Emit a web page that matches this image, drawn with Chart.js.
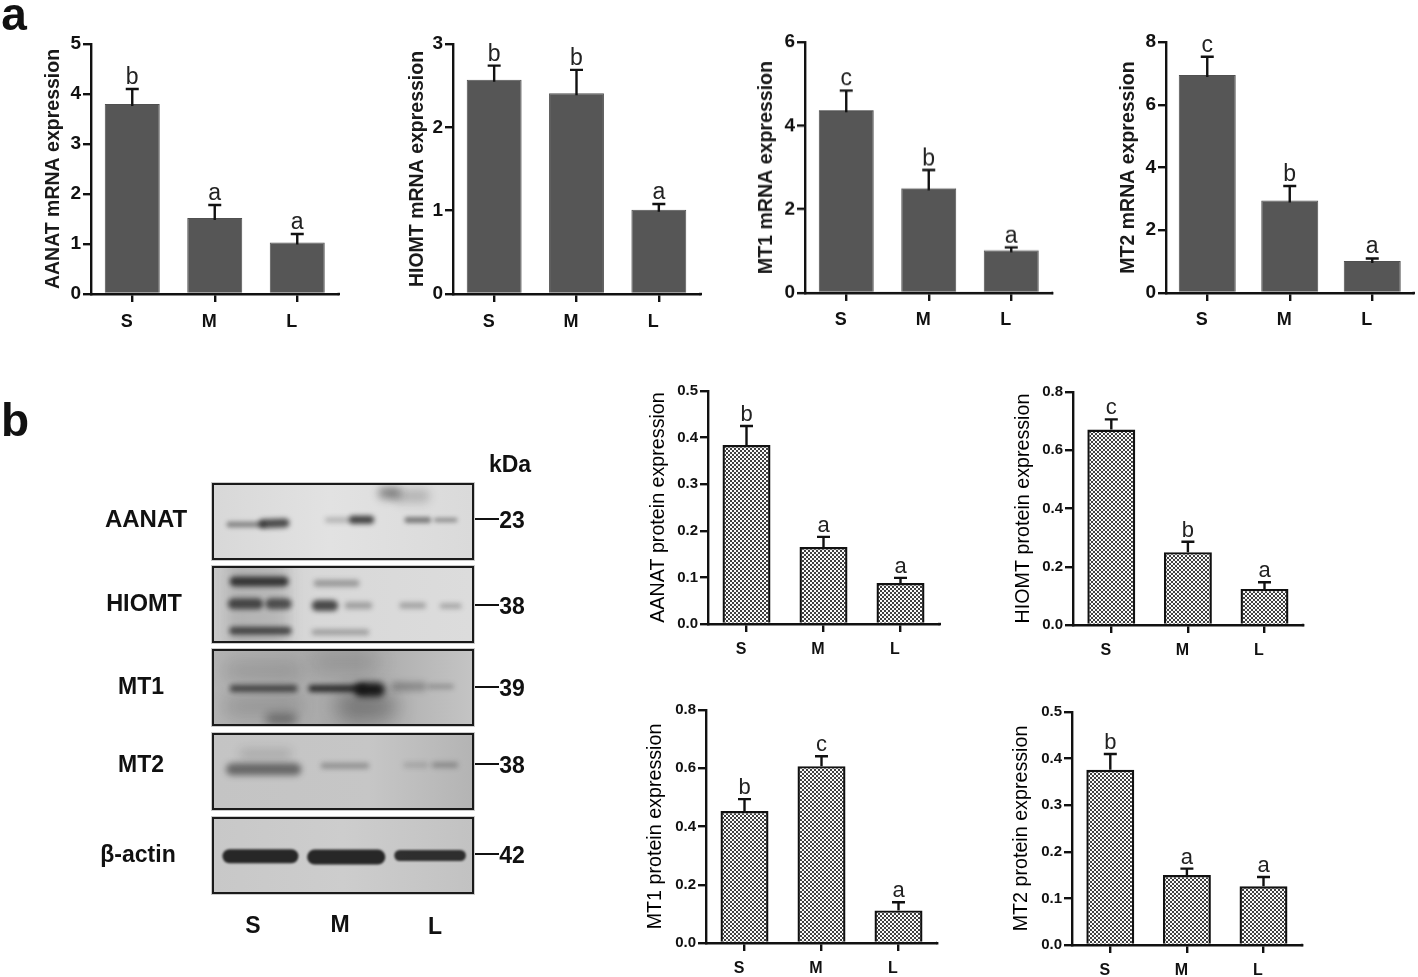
<!DOCTYPE html>
<html><head><meta charset="utf-8">
<script src="https://cdn.jsdelivr.net/npm/chart.js@4"></script>
<style>
html,body{margin:0;padding:0;background:#fff;width:1418px;height:977px;overflow:hidden}
body{position:relative;font-family:"Liberation Sans",Arial,sans-serif;color:#111}
canvas{position:absolute;display:block}
.t{position:absolute;transform:translate(-50%,-50%);line-height:1;white-space:nowrap;font-weight:bold;filter:blur(.25px)}
.blot{position:absolute;box-sizing:border-box;border:2px solid #1a1a1a;overflow:hidden;outline:1px solid #ccc}
.dash{position:absolute;background:#111;height:2.4px;width:24px}
</style></head><body>
<script>
// ---------- data ----------
const categories = ['S','M','L'];

const aanatMrnaMeans  = [3.80,1.52,1.03];
const aanatMrnaUpper  = [4.10,1.78,1.20];
const aanatMrnaLetters= ['b','a','a'];
const aanatMrnaTicks  = [0,1,2,3,4,5];

const hiomtMrnaMeans  = [2.57,2.41,1.01];
const hiomtMrnaUpper  = [2.74,2.69,1.08];
const hiomtMrnaLetters= ['b','b','a'];
const hiomtMrnaTicks  = [0,1,2,3];

const mt1MrnaMeans    = [4.37,2.50,1.02];
const mt1MrnaUpper    = [4.84,2.94,1.09];
const mt1MrnaLetters  = ['c','b','a'];
const mt1MrnaTicks    = [0,2,4,6];

const mt2MrnaMeans    = [6.95,2.95,1.02];
const mt2MrnaUpper    = [7.53,3.41,1.10];
const mt2MrnaLetters  = ['c','b','a'];
const mt2MrnaTicks    = [0,2,4,6,8];

const aanatProtMeans  = [0.384,0.165,0.088];
const aanatProtUpper  = [0.425,0.187,0.099];
const aanatProtLetters= ['b','a','a'];
const aanatProtTicks  = [0,0.1,0.2,0.3,0.4,0.5];

const hiomtProtMeans  = [0.671,0.250,0.124];
const hiomtProtUpper  = [0.706,0.286,0.147];
const hiomtProtLetters= ['c','b','a'];
const hiomtProtTicks  = [0,0.2,0.4,0.6,0.8];

const mt1ProtMeans    = [0.453,0.607,0.112];
const mt1ProtUpper    = [0.494,0.641,0.140];
const mt1ProtLetters  = ['b','c','a'];
const mt1ProtTicks    = [0,0.2,0.4,0.6,0.8];

const mt2ProtMeans    = [0.376,0.150,0.126];
const mt2ProtUpper    = [0.410,0.164,0.146];
const mt2ProtLetters  = ['b','a','a'];
const mt2ProtTicks    = [0,0.1,0.2,0.3,0.4,0.5];

// blot bands: lane start %, start height %, lane end %, end height %, darkness, thickness, softness
const bandsAanat = [[6,54,19,54,.42,6,2.2],[19,53,27.5,52,.75,9,2.4],[44,48,53,48,.25,5,2.5],[54,47.5,60.5,47.5,.8,8,2.4],[75,48,83,48,.5,6,2],[86,48,93.6,48,.42,4,2],[66,11,70,11,.45,12,4],[72,15,81,15,.2,14,5]];
const bandsHiomt = [[17,8,17,92,.14,62,7],[8,18.5,27,18.5,.82,10,2.6],[7.5,49,17,49,.72,11,2.6],[22,49,28,49,.68,11,2.6],[7.5,86,28.5,86,.72,8,2.4],[40,21,55,21,.33,7,2.6],[40,51.5,46,51.5,.75,11,2.6],[52,51.5,60,51.5,.3,7,2.6],[39,88,59,88,.3,6,2.6],[73,51.5,81,51.5,.3,6,2.4],[88.5,52,95,52,.3,5,2.4]];
const bandsMt1   = [[8,27,30,27,.14,24,9],[8,76,30,76,.16,24,9],[42,15,60,15,.12,24,9],[53,76,65,76,.35,30,10],[22,93,30,93,.45,10,5],[7.5,51.5,31,51.5,.68,7,2.4],[38,51.5,58,51.5,.85,7,2.4],[57,53,63.5,53,1,14,3.2],[70.5,48.5,81,48.5,.3,8,3],[84,48.5,92,48.5,.25,5,2.4]];
const bandsMt2   = [[12,26,28,26,.13,12,5],[7,47,31.5,47,.55,12,3],[42.5,42,59,42,.3,6,2.6],[74.5,41,82,41,.15,6,2.6],[85.5,41,93.5,41,.28,6,2.6]];
const bandsActin = [[6,51,30,51,.92,14,1.2],[39,52,63.5,52,.92,15,1.2],[72,50,95.5,50,.88,11,1.2]];

const kdaMarks = ['23','38','39','38','42'];

// ---------- plugins ----------
const errorBars = {
  id:'errorBars',
  afterDatasetsDraw(chart,args,o){
    if(!o.upper) return;
    const c=chart.ctx, xs=chart.scales.x, ys=chart.scales.y;
    c.save();
    c.strokeStyle='#111'; c.lineWidth=2.4; c.fillStyle='#222';
    c.textAlign='center'; c.textBaseline='alphabetic';
    c.font=o.letterFont;
    o.upper.forEach((u,i)=>{
      const x=xs.getPixelForValue(i), yT=ys.getPixelForValue(u), yM=ys.getPixelForValue(o.means[i]);
      c.beginPath(); c.moveTo(x,yM+(o.poke||0)); c.lineTo(x,yT);
      c.moveTo(x-o.cap,yT); c.lineTo(x+o.cap,yT); c.stroke();
      c.fillText(o.letters[i],x,yT-o.gap);
    });
    // axis overrun to the right of the last band
    const b=chart.chartArea.bottom;
    c.beginPath(); c.moveTo(chart.chartArea.right-1,b); c.lineTo(chart.chartArea.right+o.overrun,b); c.stroke();
    c.restore();
  }
};
const blur = {
  id:'bandBlur',
  beforeDatasetDraw(chart,args){ chart.ctx.save(); chart.ctx.filter='blur('+chart.data.datasets[args.index].soft+'px)'; },
  afterDatasetDraw(chart){ chart.ctx.restore(); }
};

// ---------- patterned fill ----------
function dotPattern(){
  const cell=document.createElement('canvas'); cell.width=4; cell.height=4;
  const g=cell.getContext('2d');
  g.fillStyle='#fafafa'; g.fillRect(0,0,4,4);
  g.fillStyle='#404040'; g.fillRect(0,0,2,2); g.fillRect(2,2,2,2);
  return g.createPattern(cell,'repeat');
}
const pattern = dotPattern();

// ---------- bar panels ----------
const L=90, T=15, B=34;
function barPanel(p){
  const ref=document.createElement('canvas');
  const overrun=p.xEnd-(p.axis+3*p.step);
  const w=L+3*p.step+overrun+6, h=T+(p.bottom-p.top)+B;
  ref.width=w; ref.height=h;
  ref.style.cssText=`left:${p.axis-L}px;top:${p.top-T}px;width:${w}px;height:${h}px;filter:blur(.3px)`;
  document.body.appendChild(ref);
  const protein=p.kind==='protein';
  const titleSize=protein?19.7:19.5;
  new Chart(ref,{
    type:'bar',
    data:{labels:categories,datasets:[{
      data:p.means,
      backgroundColor:protein?pattern:'#565656',
      borderColor:protein?'#111':'#505050',
      borderWidth:protein?2.4:1,
      barPercentage:p.barW/p.step, categoryPercentage:1
    }]},
    options:{
      responsive:false,animation:false,devicePixelRatio:1,
      layout:{padding:{top:T,right:overrun+6,left:0,bottom:0}},
      plugins:{legend:{display:false},tooltip:{enabled:false},
        errorBars:{means:p.means,upper:p.upper,letters:p.letters,cap:6.5,poke:protein?0:2,
          gap:5,overrun:overrun,letterFont:(protein?'22':'23')+'px "Liberation Sans"'}},
      scales:{
        x:{type:'category',offset:true,
          afterFit(s){s.height=B},
          border:{display:true,color:'#111',width:2.4},
          grid:{display:true,drawOnChartArea:false,drawTicks:true,tickLength:8,color:'#111',lineWidth:2.4,offset:false},
          ticks:{color:'#111',font:{family:'Liberation Sans',weight:'bold',size:protein?16:18},padding:p.labelPad,labelOffset:-5.5,maxRotation:0}},
        y:{type:'linear',min:0,max:p.ticks[p.ticks.length-1],
          afterFit(s){s.width=L},
          afterBuildTicks(s){s.ticks=p.ticks.map(v=>({value:v}))},
          border:{display:true,color:'#111',width:2.4},
          grid:{display:true,drawOnChartArea:false,drawTicks:true,tickLength:8,color:'#111',lineWidth:2.4},
          ticks:{color:'#111',font:{family:'Liberation Sans',weight:'bold',size:protein?15:19},padding:2,
            callback:v=>protein?v.toFixed(1):String(v)},
          title:{display:true,text:p.title,color:protein?'#000':'#1a1a1a',
            font:{family:'Liberation Sans',weight:protein?'normal':'bold',size:titleSize,lineHeight:1.2},
            padding:{top:p.titleX-(p.axis-L)-titleSize*.6,bottom:0}}
        }
      }
    },
    plugins:[errorBars]
  });
}

[
 {kind:'mrna',title:'AANAT mRNA expression',means:aanatMrnaMeans,upper:aanatMrnaUpper,letters:aanatMrnaLetters,ticks:aanatMrnaTicks,axis:91,top:44,bottom:294,step:82.5,barW:55,xEnd:340,titleX:54,labelPad:9},
 {kind:'mrna',title:'HIOMT mRNA expression',means:hiomtMrnaMeans,upper:hiomtMrnaUpper,letters:hiomtMrnaLetters,ticks:hiomtMrnaTicks,axis:452.5,top:44,bottom:294,step:82.5,barW:55,xEnd:702,titleX:417,labelPad:9},
 {kind:'mrna',title:'MT1 mRNA expression',means:mt1MrnaMeans,upper:mt1MrnaUpper,letters:mt1MrnaLetters,ticks:mt1MrnaTicks,axis:805,top:42,bottom:292.7,step:82.5,barW:55,xEnd:1053,titleX:767,labelPad:8},
 {kind:'mrna',title:'MT2 mRNA expression',means:mt2MrnaMeans,upper:mt2MrnaUpper,letters:mt2MrnaLetters,ticks:mt2MrnaTicks,axis:1166,top:41.7,bottom:292.7,step:82.5,barW:57,xEnd:1415,titleX:1129,labelPad:8},
 {kind:'protein',title:'AANAT protein expression',means:aanatProtMeans,upper:aanatProtUpper,letters:aanatProtLetters,ticks:aanatProtTicks,axis:708,top:391,bottom:624,step:77,barW:48,xEnd:941,titleX:659,labelPad:8},
 {kind:'protein',title:'HIOMT protein expression',means:hiomtProtMeans,upper:hiomtProtUpper,letters:hiomtProtLetters,ticks:hiomtProtTicks,axis:1072.7,top:392,bottom:625,step:76.7,barW:48,xEnd:1304,titleX:1023,labelPad:8},
 {kind:'protein',title:'MT1 protein expression',means:mt1ProtMeans,upper:mt1ProtUpper,letters:mt1ProtLetters,ticks:mt1ProtTicks,axis:706,top:710,bottom:943,step:77,barW:48,xEnd:937,titleX:656,labelPad:8},
 {kind:'protein',title:'MT2 protein expression',means:mt2ProtMeans,upper:mt2ProtUpper,letters:mt2ProtLetters,ticks:mt2ProtTicks,axis:1071.7,top:711.7,bottom:945,step:76.7,barW:48,xEnd:1303,titleX:1021,labelPad:8}
].forEach(barPanel);

// ---------- blot panels ----------
function blotPanel(b){
  const box=document.createElement('div');
  box.className='blot';
  box.style.cssText=`left:${b.x}px;top:${b.y}px;width:${b.w}px;height:${b.h}px;background:${b.bg}`;
  const cv=document.createElement('canvas');
  const iw=b.w-4, ih=b.h-4;
  cv.width=iw; cv.height=ih; cv.style.cssText=`left:0;top:0;width:${iw}px;height:${ih}px`;
  box.appendChild(cv); document.body.appendChild(box);
  new Chart(cv,{
    type:'scatter',
    data:{datasets:b.bands.map(r=>({
      data:[{x:r[0],y:r[1]},{x:r[2],y:r[3]}],
      showLine:true,pointRadius:0,
      borderColor:`rgba(25,25,25,${r[4]})`,
      borderWidth:r[5],
      soft:r[6],
      borderCapStyle:'round'
    }))},
    options:{responsive:false,animation:false,devicePixelRatio:1,
      layout:{padding:0},
      plugins:{legend:{display:false},tooltip:{enabled:false}},
      scales:{x:{type:'linear',min:0,max:100,display:false},y:{type:'linear',min:0,max:100,reverse:true,display:false}}},
    plugins:[blur]
  });
}
[
 {x:212,y:483,w:262,h:77,bg:'linear-gradient(90deg,#d8d8d8,#e2e2e2 45%,#dadada)',bands:bandsAanat},
 {x:212,y:566,w:262,h:77,bg:'linear-gradient(90deg,#c8c8c8,#d8d8d8 40%,#dcdcdc)',bands:bandsHiomt},
 {x:212,y:649,w:262,h:77,bg:'linear-gradient(90deg,#b4b4b4,#a8a8a8 55%,#c4c4c4)',bands:bandsMt1},
 {x:212,y:733,w:262,h:77,bg:'linear-gradient(90deg,#c4c4c4,#c6c6c6 60%,#b4b4b4)',bands:bandsMt2},
 {x:212,y:817,w:262,h:77,bg:'linear-gradient(90deg,#c8c8c8,#cdcdcd 50%,#c2c2c2)',bands:bandsActin}
].forEach(blotPanel);

// ---------- text ----------
function text(s,x,y,size){
  const d=document.createElement('div'); d.className='t'; d.textContent=s;
  d.style.cssText=`left:${x}px;top:${y}px;font-size:${size}px`;
  document.body.appendChild(d);
}
text('a',14,14,46); text('b',15,420,46);
text('kDa',510,464,23);
text('AANAT',146,519,24); text('HIOMT',144,604,23.5); text('MT1',141,686,23); text('MT2',141,764,23); text('β-actin',138,854,23);
text('S',253,925,23); text('M',340,924,23); text('L',435,926,23);
const kdaY=[520,606,688,765,855];
kdaMarks.forEach((m,i)=>{
  text(m,512,kdaY[i],23);
  const d=document.createElement('div'); d.className='dash';
  d.style.left='475px'; d.style.top=(kdaY[i]-2)+'px';
  document.body.appendChild(d);
});
</script>
</body></html>
